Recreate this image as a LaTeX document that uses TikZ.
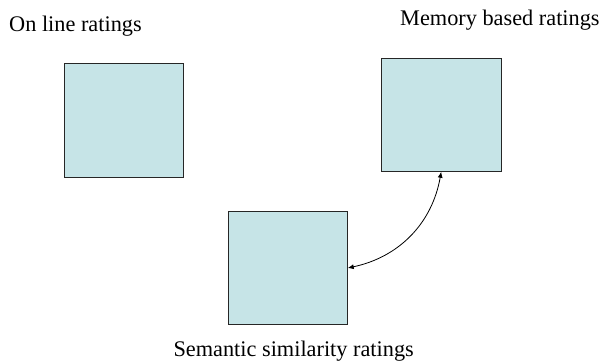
\documentclass[tikz,border=0pt]{standalone}
\usepackage{fontspec}
\setmainfont{Liberation Serif}
\usetikzlibrary{arrows.meta}
\begin{document}
\begin{tikzpicture}[x=1pt,y=1pt,
  box/.style={draw=black!85, line width=0.8pt, fill={rgb,255:red,198;green,228;blue,231},
    minimum width=119.5pt, minimum height=113.5pt, inner sep=0pt, outer sep=0pt},
  lbl/.style={anchor=base west, inner sep=0pt, font=\fontsize{22.3}{26}\selectfont},
  link/.style={line width=0.8pt, {Latex[length=6pt,width=5pt]}-{Latex[length=6pt,width=5pt]}}]
\useasboundingbox (0,0) rectangle (605,364);
\node[box] (b1) at (123.85,243.7) {};
\node[box] (b2) at (441.2,249) {};
\node[box] (b3) at (288,96) {};
\node[lbl] (t1) at (9,332.3) {On line ratings};
\node[lbl] (t2) at (400,338.3) {Memory based ratings};
\node[lbl] (t3) at (173.3,7) {Semantic similarity ratings};
\draw[link] (b3.east) to[out=12,in=-100] (b2.south);
\end{tikzpicture}
\end{document}
